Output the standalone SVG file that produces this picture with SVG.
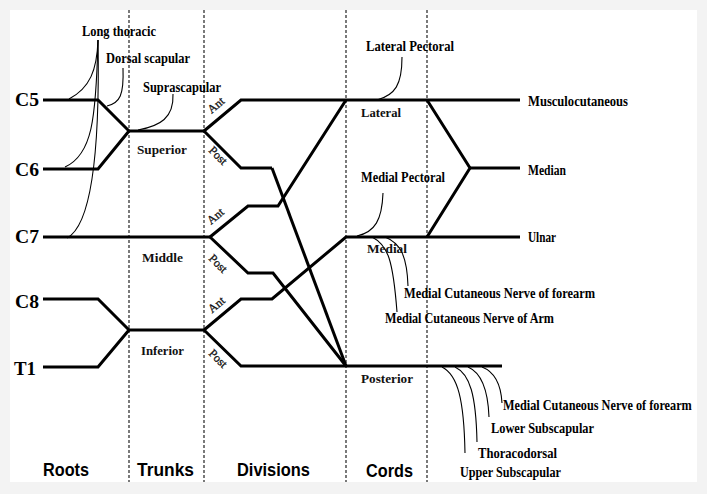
<svg xmlns="http://www.w3.org/2000/svg" width="707" height="494" viewBox="0 0 707 494">
<style>
.nerve{fill:none;stroke:#000;stroke-width:3;stroke-linejoin:miter;stroke-linecap:butt}
.thin{fill:none;stroke:#000;stroke-width:1.1}
.dash{stroke:#222;stroke-width:1.2;stroke-dasharray:3,2}
.cond{font-family:"Liberation Serif","Times New Roman",serif;font-weight:bold;font-size:14.5px;fill:#000}
.reg{font-family:"Liberation Serif","Times New Roman",serif;font-weight:bold;font-size:13px;fill:#111}
.root{font-family:"Liberation Serif","Times New Roman",serif;font-weight:bold;font-size:18px;fill:#000}
.div{font-family:"Liberation Serif","Times New Roman",serif;font-size:12px;fill:#111;stroke:#111;stroke-width:0.3}
.head{font-family:"Liberation Sans",Arial,sans-serif;font-weight:bold;font-size:18px;fill:#000}
</style>
<rect x="0" y="0" width="707" height="494" fill="#f3f3f3"/>
<rect x="10" y="10" width="687" height="472" fill="#fff"/>
<g id="section-dividers">
<line class="dash" x1="129" y1="10" x2="129" y2="482"/>
<line class="dash" x1="204" y1="10" x2="204" y2="482"/>
<line class="dash" x1="346" y1="10" x2="346" y2="482"/>
<line class="dash" x1="427" y1="10" x2="427" y2="482"/>
</g>
<g id="connectors">
<path class="nerve" d="M43,100 H98 L129,131"/>
<path class="nerve" d="M43,169 H98 L129,131"/>
<path class="nerve" d="M43,299 H98 L129,330"/>
<path class="nerve" d="M43,367 H98 L129,330"/>
<path class="nerve" d="M129,131 H204"/>
<path class="nerve" d="M43,237 H210"/>
<path class="nerve" d="M129,330 H204"/>
<path class="nerve" d="M204,131 L241,100 H520"/>
<path class="nerve" d="M204,131 L241,168 H272"/>
<path class="nerve" stroke-width="2" d="M272,168 L346,366"/>
<path class="nerve" d="M210,237 L248,206 H278 L346,100"/>
<path class="nerve" d="M210,237 L248,273 H273 L346,366"/>
<path class="nerve" d="M204,330 L241,299 H272 L346,237 H520"/>
<path class="nerve" d="M204,330 L241,366 H502"/>
<path class="nerve" d="M427,100 L470,168 L427,237"/>
<path class="nerve" d="M470,168 H520"/>
<path class="thin" d="M98,40 C97,70 90,88 69,99"/>
<path class="thin" d="M98,40 C96,120 92,155 65,167"/>
<path class="thin" d="M98,40 C100,150 92,225 67,238"/>
<path class="thin" d="M123,68 C124,95 120,103 107,106"/>
<path class="thin" d="M173,94 C174,118 160,126 138,130"/>
<path class="thin" d="M402,57 C402,85 395,95 377,100"/>
<path class="thin" d="M383,193 C382,220 375,232 357,236"/>
<path class="thin" d="M372,237 C388,245 393,260 397,312"/>
<path class="thin" d="M385,237 C400,243 407,255 408,286"/>
<path class="thin" d="M442,367 C458,375 464,400 465,453"/>
<path class="thin" d="M455,367 C470,374 476,395 477,442"/>
<path class="thin" d="M468,367 C482,373 488,390 489,417"/>
<path class="thin" d="M482,367 C495,372 501,385 502,403"/>
</g>
<g id="roots">
<text class="root" x="15" y="106" textLength="24" lengthAdjust="spacingAndGlyphs">C5</text>
<text class="root" x="15" y="176" textLength="24" lengthAdjust="spacingAndGlyphs">C6</text>
<text class="root" x="15" y="243" textLength="24" lengthAdjust="spacingAndGlyphs">C7</text>
<text class="root" x="15" y="308" textLength="24" lengthAdjust="spacingAndGlyphs">C8</text>
<text class="root" x="14" y="375" textLength="22" lengthAdjust="spacingAndGlyphs">T1</text>
</g>
<g id="trunks">
<text class="reg" x="137" y="154" textLength="50" lengthAdjust="spacingAndGlyphs">Superior</text>
<text class="reg" x="142" y="262" textLength="41" lengthAdjust="spacingAndGlyphs">Middle</text>
<text class="reg" x="141" y="355" textLength="43" lengthAdjust="spacingAndGlyphs">Inferior</text>
</g>
<g id="divisions">
<text class="div" transform="translate(211.5,114) rotate(-40)">Ant</text>
<text class="div" transform="translate(208,151) rotate(45)">Post</text>
<text class="div" transform="translate(211,225) rotate(-40)">Ant</text>
<text class="div" transform="translate(208,259) rotate(45)">Post</text>
<text class="div" transform="translate(212,313.5) rotate(-40)">Ant</text>
<text class="div" transform="translate(208,354) rotate(45)">Post</text>
</g>
<g id="cords">
<text class="reg" x="361" y="117" textLength="40" lengthAdjust="spacingAndGlyphs">Lateral</text>
<text class="reg" x="367" y="253" textLength="40" lengthAdjust="spacingAndGlyphs">Medial</text>
<text class="reg" x="361" y="383" textLength="52" lengthAdjust="spacingAndGlyphs">Posterior</text>
</g>
<g id="branches">
<text class="cond" x="82" y="36" textLength="74" lengthAdjust="spacingAndGlyphs">Long thoracic</text>
<text class="cond" x="106" y="63" textLength="84" lengthAdjust="spacingAndGlyphs">Dorsal scapular</text>
<text class="cond" x="143" y="92" textLength="78" lengthAdjust="spacingAndGlyphs">Suprascapular</text>
<text class="cond" x="366" y="51" textLength="88" lengthAdjust="spacingAndGlyphs">Lateral Pectoral</text>
<text class="cond" x="361" y="182" textLength="84" lengthAdjust="spacingAndGlyphs">Medial Pectoral</text>
<text class="cond" x="528" y="106" textLength="100" lengthAdjust="spacingAndGlyphs">Musculocutaneous</text>
<text class="cond" x="528" y="175" textLength="38" lengthAdjust="spacingAndGlyphs">Median</text>
<text class="cond" x="528" y="242" textLength="28" lengthAdjust="spacingAndGlyphs">Ulnar</text>
<text class="cond" x="404" y="298" textLength="191" lengthAdjust="spacingAndGlyphs">Medial Cutaneous Nerve of forearm</text>
<text class="cond" x="385" y="323" textLength="169" lengthAdjust="spacingAndGlyphs">Medial Cutaneous Nerve of Arm</text>
<text class="cond" transform="translate(503,410) scale(0.8,1)" x="0" y="0" textLength="236" lengthAdjust="spacingAndGlyphs">Medial Cutaneous Nerve of forearm</text>
<text class="cond" x="491" y="433" textLength="103" lengthAdjust="spacingAndGlyphs">Lower Subscapular</text>
<text class="cond" x="478" y="458" textLength="79" lengthAdjust="spacingAndGlyphs">Thoracodorsal</text>
<text class="cond" x="460" y="477" textLength="101" lengthAdjust="spacingAndGlyphs">Upper Subscapular</text>
</g>
<g id="headings">
<text class="head" x="43" y="476" textLength="46" lengthAdjust="spacingAndGlyphs">Roots</text>
<text class="head" x="137" y="476" textLength="57" lengthAdjust="spacingAndGlyphs">Trunks</text>
<text class="head" x="237" y="476" textLength="73" lengthAdjust="spacingAndGlyphs">Divisions</text>
<text class="head" x="366" y="477" textLength="47" lengthAdjust="spacingAndGlyphs">Cords</text>
</g>
</svg>
